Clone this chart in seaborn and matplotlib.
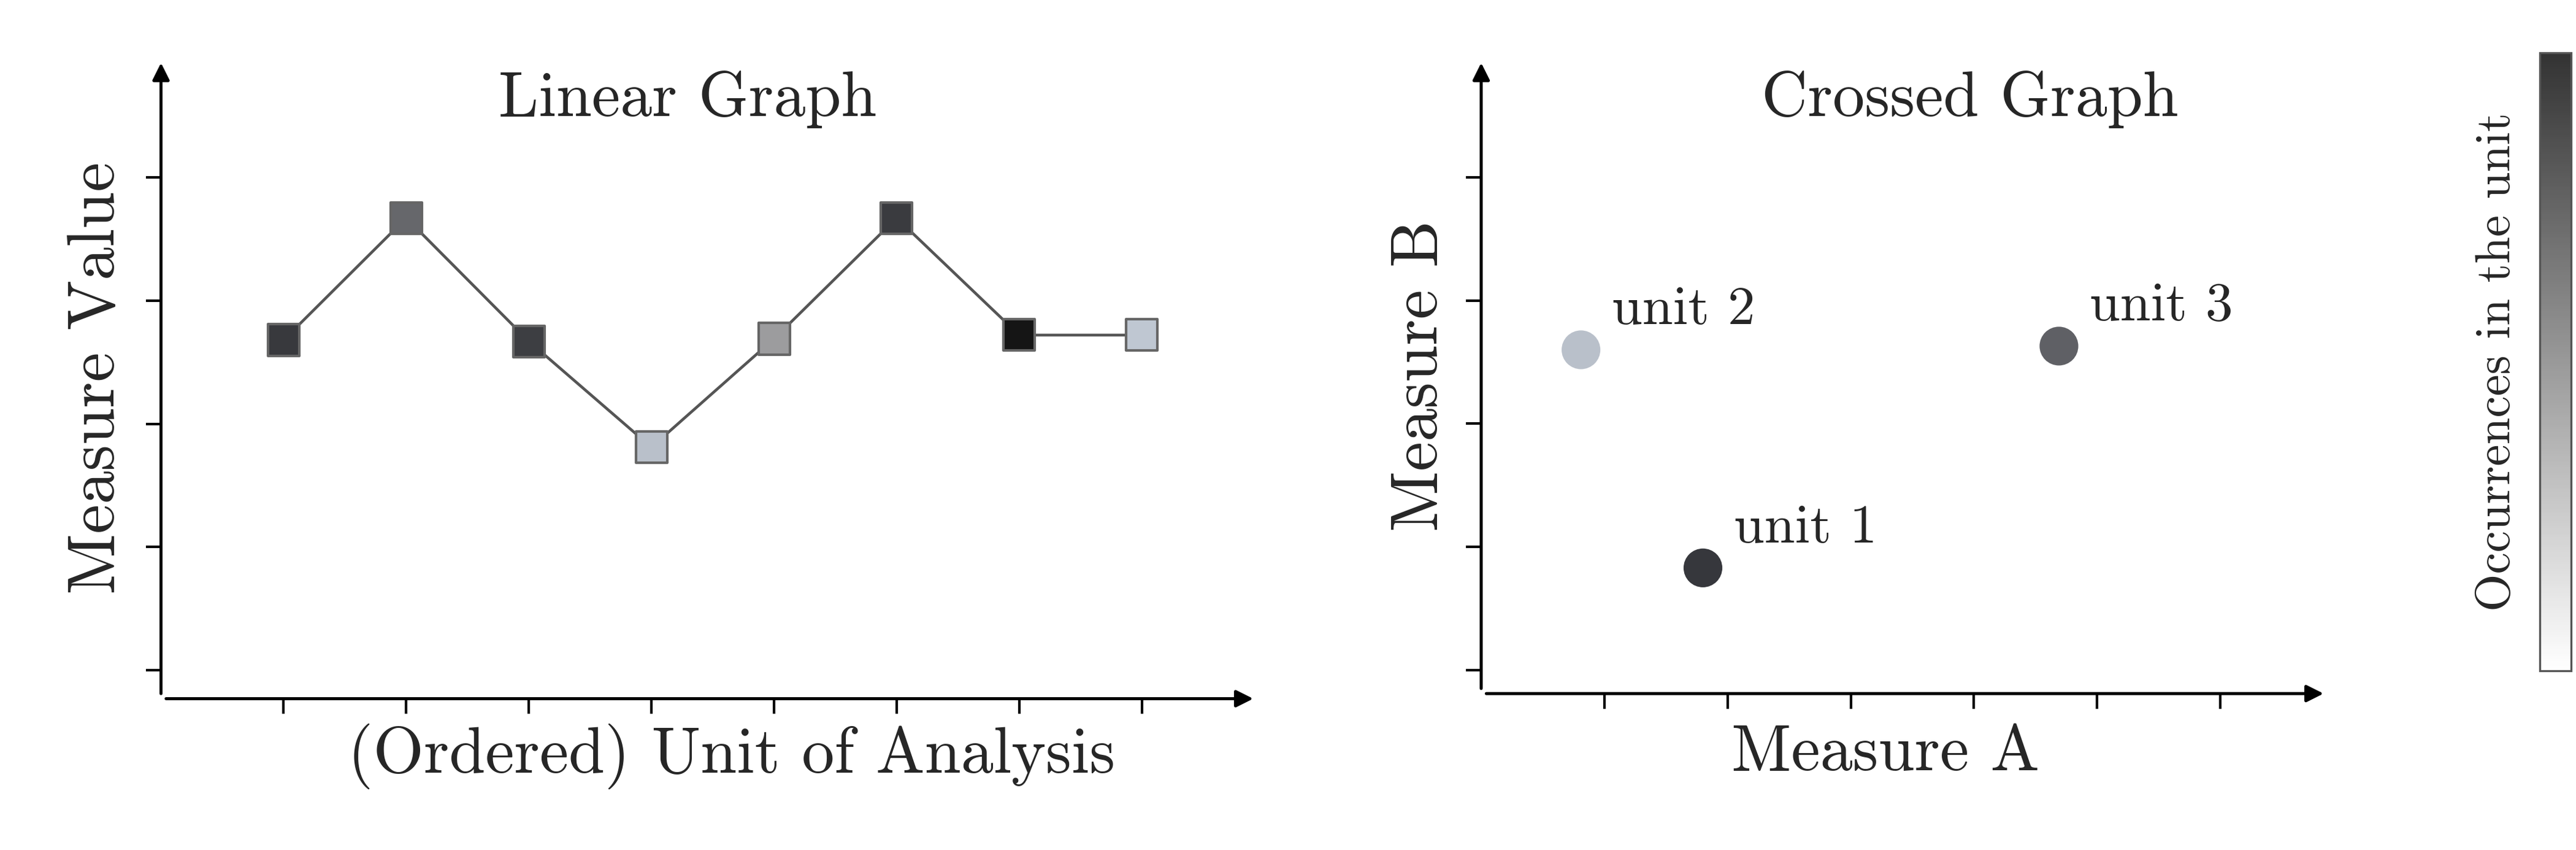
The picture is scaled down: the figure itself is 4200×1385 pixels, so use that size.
import matplotlib
matplotlib.use("Agg")
import matplotlib.pyplot as plt
import seaborn as sns
import pandas as pd
import numpy as np
from matplotlib.colors import LinearSegmentedColormap
from matplotlib.cm import ScalarMappable

sns.set_style("white")
plt.rcParams['font.family'] = ['cmr10', 'DejaVu Serif']
plt.rcParams['mathtext.fontset'] = 'cm'
plt.rcParams['axes.unicode_minus'] = False

# Linear graph data
lin_x = [1, 2, 3, 4, 5, 6, 7, 8]
lin_y = [2.68, 3.67, 2.67, 1.81, 2.69, 3.67, 2.72, 2.72]
lin_colors = ["#38393d", "#66676b", "#3d3e42", "#b9c0ca", "#9c9c9e", "#3a3b3f", "#151515", "#bfc7d2"]

# Crossed graph data
units = ["unit 1", "unit 2", "unit 3"]
cross_a = [1.80, 0.81, 4.69]
cross_b = [0.83, 2.60, 2.63]
cross_colors = ["#36373c", "#b9c0ca", "#5f6065"]

fig = plt.figure(figsize=(14, 4.617), dpi=300)
ax1 = fig.add_axes([0.0625, 0.178, 0.426, 0.754])
ax2 = fig.add_axes([0.575, 0.184, 0.329, 0.748])
cax = fig.add_axes([0.986, 0.211, 0.012, 0.727])

def style(ax, xt, yt):
    for s in ax.spines.values():
        s.set_visible(False)
    ax.set_xticks(xt)
    ax.set_yticks(yt)
    ax.tick_params(axis='both', direction='out', length=6, width=1.0, color='black',
                   labelbottom=False, labelleft=False, bottom=True, left=True)
    ax.annotate("", xy=(1, 0), xytext=(0, 0), xycoords='axes fraction',
                arrowprops=dict(arrowstyle="-|>", color="black", lw=1.2, mutation_scale=14))
    ax.annotate("", xy=(0, 1), xytext=(0, 0), xycoords='axes fraction',
                arrowprops=dict(arrowstyle="-|>", color="black", lw=1.2, mutation_scale=14))
    ax.grid(False)

df1 = pd.DataFrame({"x": lin_x, "y": lin_y, "i": range(len(lin_x))})
sns.lineplot(data=df1, x="x", y="y", ax=ax1, color="#555555", lw=1.1, zorder=1)
sns.scatterplot(data=df1, x="x", y="y", hue="i", palette=lin_colors, marker="s", s=150,
                edgecolor="#666666", linewidth=1.0, ax=ax1, legend=False, zorder=2)
ax1.set_xlim(0, 8.95)
ax1.set_ylim(-0.23, 4.97)
style(ax1, lin_x, [0, 1, 2, 3, 4])
ax1.set_xlabel(""); ax1.set_ylabel("")
ax1.text(0.48, 0.935, "Linear Graph", transform=ax1.transAxes, ha='center', va='center', fontsize=25)
ax1.text(0.52, -0.09, "(Ordered) Unit of Analysis", transform=ax1.transAxes, ha='center', va='center', fontsize=25.5)
ax1.text(-0.058, 0.5, "Measure Value", transform=ax1.transAxes, ha='center', va='center', fontsize=26, rotation=90)

df2 = pd.DataFrame({"a": cross_a, "b": cross_b, "u": units})
sns.scatterplot(data=df2, x="a", y="b", hue="u", palette=cross_colors, s=230,
                edgecolor="none", ax=ax2, legend=False)
for u, a, b in zip(units, cross_a, cross_b):
    ax2.annotate(u, (a, b), xytext=(12, 10), textcoords='offset points', fontsize=21.5)
ax2.set_xlim(0, 6.88)
ax2.set_ylim(-0.19, 4.97)
style(ax2, [1, 2, 3, 4, 5, 6], [0, 1, 2, 3, 4])
ax2.set_xlabel(""); ax2.set_ylabel("")
ax2.text(0.577, 0.935, "Crossed Graph", transform=ax2.transAxes, ha='center', va='center', fontsize=25)
ax2.text(0.477, -0.095, "Measure A", transform=ax2.transAxes, ha='center', va='center', fontsize=25.5)
ax2.text(-0.072, 0.5, "Measure B", transform=ax2.transAxes, ha='center', va='center', fontsize=26, rotation=90)

cmap = LinearSegmentedColormap.from_list("occ", ["#ffffff", "#333333"])
sm = ScalarMappable(cmap=cmap)
sm.set_array(np.array([0, 1]))
cb = fig.colorbar(sm, cax=cax)
cb.set_ticks([])
cb.outline.set_linewidth(0.8)
cb.outline.set_edgecolor("#555555")
cb.ax.yaxis.set_label_position('left')
cb.set_label("Occurrences in the unit", fontsize=19, labelpad=8)

fig.savefig("out.png", dpi=300)
